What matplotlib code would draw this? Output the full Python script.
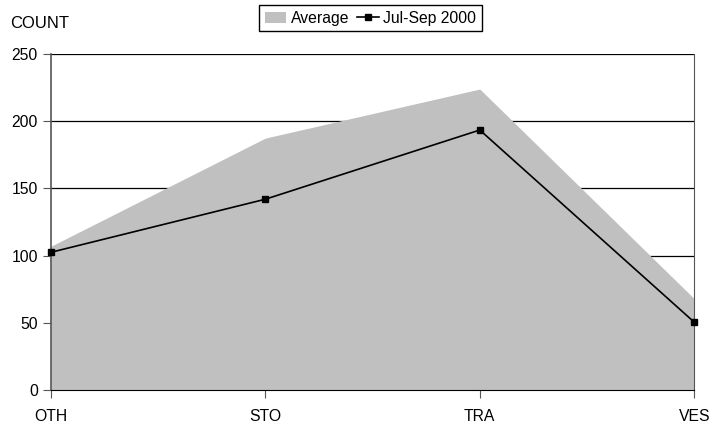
import numpy as np
import matplotlib.pyplot as plt

plt.rcParams['font.family'] = ['Liberation Sans', 'DejaVu Sans']

categories = ["OTH", "STO", "TRA", "VES"]
average = [107, 187.5, 224, 68]
jul_sep_2000 = [102.5, 142, 193.5, 50.5]

fig = plt.figure(figsize=(7.12, 4.26), dpi=100)
ax = fig.add_axes([0.0716, 0.0845, 0.9034, 0.7885])

x = np.arange(len(categories))
ax.fill_between(x, 0, average, color="#c0c0c0", linewidth=0, label="Average", zorder=2)
ax.plot(x, jul_sep_2000, color="black", linewidth=1.2, marker="s", markersize=5,
        label="Jul-Sep 2000", zorder=5, clip_on=False)

ax.set_xlim(0, len(categories) - 1)
ax.set_ylim(0, 250)
ax.set_yticks(np.arange(0, 251, 50))
ax.set_xticks(x)
ax.set_xticklabels(categories)
ax.set_axisbelow(True)
ax.yaxis.grid(True, color="black", linewidth=0.9)
ax.spines["top"].set_visible(False)
ax.spines["left"].set_color("#555555")
ax.spines["left"].set_linewidth(1.2)
ax.spines["bottom"].set_color("black")
ax.spines["right"].set_color("#555555")
ax.spines["right"].set_linewidth(0.8)
for sp in ax.spines.values():
    sp.set_zorder(4)
ax.tick_params(axis="both", labelsize=11.3, length=6, width=0.8, color="#555555")
ax.tick_params(axis="x", pad=8)

fig.text(0.014, 0.945, "COUNT", fontsize=12, va="center", ha="left")
fig.legend(loc="center", bbox_to_anchor=(0.5204, 0.9577), ncol=2, fontsize=11.3,
           frameon=True, fancybox=False, edgecolor="black", framealpha=1,
           borderpad=0.35, handlelength=1.37, handletextpad=0.3, columnspacing=0.5,
           borderaxespad=0)

fig.savefig("out.png", dpi=100)
